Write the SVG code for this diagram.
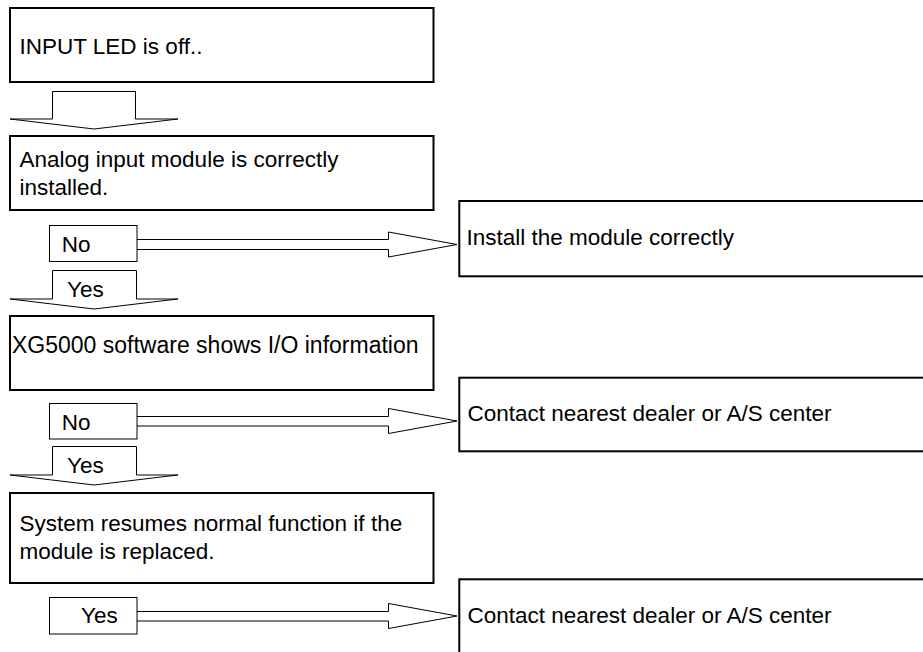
<svg xmlns="http://www.w3.org/2000/svg" width="923" height="652" viewBox="0 0 923 652">
<style>
.box{fill:#fff;stroke:#000;stroke-width:2}
.lbl{fill:#fff;stroke:#000;stroke-width:1}
.arr{fill:#fff;stroke:#000;stroke-width:1;stroke-linejoin:miter}
text{font-family:"Liberation Sans",Arial,sans-serif;font-size:22.5px;fill:#000}
</style>
<rect width="923" height="652" fill="#fff"/>
<g id="connectors">
<polygon class="arr" points="52.5,91.5 135.5,91.5 135.5,119 178,119 94,129 10,119 52.5,119"/>
<polygon class="arr" points="52.5,270.5 136.5,270.5 136.5,299 178,299 94,309 10,299 52.5,299"/>
<polygon class="arr" points="52.5,446.5 136.5,446.5 136.5,475 178,475 94,485 10,475 52.5,475"/>
<path class="arr" d="M137,239.5 H388.5 V232 L457,244.5 L388.5,257 V249.5 H137"/>
<path class="arr" d="M137,416.5 H388.5 V408.5 L457,421 L388.5,433.5 V426 H137"/>
<path class="arr" d="M137,611.5 H388.5 V603.5 L457,616 L388.5,628.5 V621 H137"/>
</g>
<g id="n1"><rect class="box" x="10" y="8" width="423.5" height="74"/><text x="19.5" y="53.5">INPUT LED is off..</text></g>
<g id="n2"><rect class="box" x="10" y="136" width="423.5" height="74"/><text x="19.5" y="167">Analog input module is correctly</text><text x="19.5" y="195">installed.</text></g>
<g id="n3"><rect class="box" x="10" y="316" width="423.5" height="74"/><text x="12" y="352.5" style="font-size:23px">XG5000 software shows I/O information</text></g>
<g id="n4"><rect class="box" x="10" y="493" width="423.5" height="90"/><text x="19.5" y="530.5">System resumes normal function if the</text><text x="19.5" y="558.5">module is replaced.</text></g>
<g id="n5"><rect class="box" x="459.3" y="201" width="480" height="75.3"/><text x="466.5" y="245">Install the module correctly</text></g>
<g id="n6"><rect class="box" x="459.3" y="377.7" width="480" height="73.6"/><text x="467.5" y="420.7">Contact nearest dealer or A/S center</text></g>
<g id="n7"><rect class="box" x="459.3" y="579.3" width="480" height="90"/><text x="467.5" y="623">Contact nearest dealer or A/S center</text></g>
<g id="l1"><rect class="lbl" x="49.5" y="225.5" width="87.5" height="36"/><text x="61.7" y="251.5">No</text></g>
<g id="l2"><text x="67" y="296.5">Yes</text></g>
<g id="l3"><rect class="lbl" x="49.5" y="403.5" width="87.5" height="35.5"/><text x="61.7" y="429.8">No</text></g>
<g id="l4"><text x="67" y="473">Yes</text></g>
<g id="l5"><rect class="lbl" x="49.5" y="597.5" width="87.5" height="36.5"/><text x="81" y="622.7">Yes</text></g>
</svg>
